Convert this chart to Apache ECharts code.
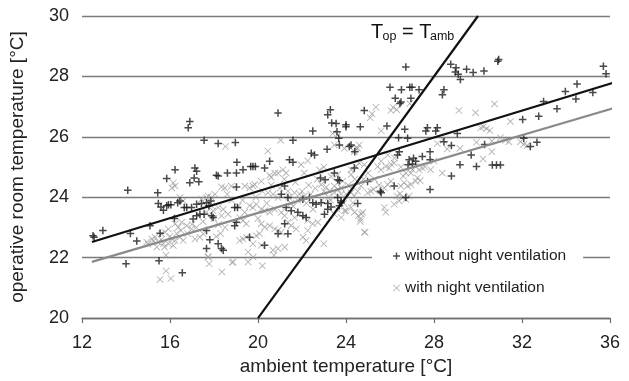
<!DOCTYPE html>
<html><head><meta charset="utf-8">
<script src="https://cdn.jsdelivr.net/npm/echarts@6/dist/echarts.min.js"></script>
<style>html,body{margin:0;padding:0;background:#fff}#c{width:629px;height:381px}</style>
</head><body><div id="c"></div>
<script>
// ambient temperature [°C], operative room temperature [°C]
const withoutNightVent = [
[12.5,22.73],[12.55,22.68],[12.95,22.9],[14.08,24.23],[14.2,22.8],[14.0,21.8],[14.49,22.55],[15.09,23.06],[15.44,24.15],[15.55,22.81],[15.5,21.9],[15.47,23.79],[15.59,23.68],[15.7,23.57],[15.85,23.72],[15.93,23.75],[16.04,23.75],[15.85,24.62],[16.23,24.91],[16.2,23.3],[16.35,23.82],[16.45,23.88],[16.56,21.5],[16.65,23.66],[16.76,23.66],[16.98,23.66],[16.9,26.51],[16.83,26.3],[16.9,24.48],[17.13,24.97],[17.21,24.86],[17.1,24.64],[17.31,24.51],[17.21,23.77],[17.43,23.79],[17.66,23.82],[17.77,23.72],[17.86,23.88],[17.05,23.28],[17.21,23.39],[17.36,23.44],[17.55,23.44],[17.89,23.39],[17.96,23.33],[17.66,22.9],[17.81,22.59],[18.19,22.46],[18.34,22.3],[18.42,22.25],[17.66,22.3],[17.55,25.89],[18.19,25.78],[18.97,25.81],[18.11,24.73],[18.19,24.7],[18.61,24.8],[19.02,24.8],[19.32,24.91],[19.04,25.16],[19.02,24.34],[18.94,23.66],[19.07,23.66],[18.94,23.06],[19.02,23.17],[19.67,25.02],[19.77,25.02],[19.88,25.02],[20.3,24.97],[20.53,25.19],[20.3,22.41],[19.62,22.68],[20.91,26.79],[21.06,24.1],[21.36,23.99],[21.21,24.37],[21.28,23.66],[21.51,23.55],[21.81,23.5],[22.04,23.39],[22.19,23.33],[21.21,23.12],[21.36,22.79],[20.91,22.79],[21.43,25.24],[21.59,25.16],[21.59,25.89],[22.42,25.46],[22.57,25.4],[22.49,26.19],[22.49,23.82],[22.64,23.77],[22.87,23.82],[23.17,23.79],[23.32,23.68],[22.04,23.93],[22.34,23.99],[23.02,23.44],[23.17,23.6],[23.7,23.72],[23.78,23.88],[23.62,23.99],[23.05,24.58],[22.84,24.64],[23.47,24.8],[24.38,24.97],[23.7,24.55],[24.53,23.79],[23.29,26.9],[23.17,26.73],[23.35,26.46],[23.55,26.44],[24.0,26.4],[24.0,26.33],[23.59,26.17],[23.14,25.59],[23.67,25.95],[23.7,25.73],[24.23,25.73],
[24.65,26.33],[24.83,26.87],[23.63,24.58],[24.15,25.68],[24.4,25.51],[23.77,23.82],[24.98,24.52],[25.56,24.2],[25.6,24.15],[26.19,24.37],[26.72,23.99],[25.86,26.36],[26.0,27.64],[26.52,27.56],[26.9,27.64],[27.0,27.64],[27.32,27.56],[26.24,27.28],[26.5,27.15],[26.45,27.1],[26.95,27.28],[26.72,28.31],[28.45,27.56],[28.38,27.39],[28.76,28.4],[29.0,28.29],[28.97,28.15],[29.1,28.07],[29.2,27.9],[29.48,28.24],[29.78,28.13],[30.27,28.18],[30.94,28.56],[30.9,28.5],[35.7,28.34],[35.82,28.09],[26.67,26.25],[27.7,26.3],[27.63,26.19],[28.15,26.3],[28.08,26.19],[29.06,26.11],[30.3,25.75],[32.03,26.57],[32.76,26.68],[32.98,27.17],[33.59,26.93],[33.97,27.5],[34.5,27.75],[34.45,27.25],[35.22,27.47],[32.08,25.95],[32.38,25.68],[32.68,25.82],[29.18,25.08],[29.93,25.02],[30.65,25.07],[30.84,25.07],[31.02,25.07],[29.69,25.4],[28.79,25.71],[28.45,25.84],[27.82,25.51],[28.79,24.7],[27.82,24.26],[26.39,25.97],[26.8,25.95],[26.87,25.24],[27.07,25.29],[27.17,25.19],[27.47,25.35],[26.82,25.08],[27.02,25.1],[27.82,25.24],[26.34,25.4],[26.42,25.51]
];
const withNightVent = [
[21.03,25.89],[18.52,25.68],[20.45,25.53],[23.4,26.11],[24.38,25.51],[24.53,25.62],[24.6,25.73],[22.26,25.21],[21.96,25.08],[21.13,24.91],[20.91,24.8],[20.76,24.8],[21.28,24.8],[23.32,24.69],[23.62,24.75],[23.85,24.53],[24.23,24.75],[20.53,24.73],[20.6,24.66],[20.15,24.53],[19.85,24.42],[16.15,24.48],[16.23,24.37],[16.08,24.31],[18.34,24.34],[18.49,24.31],[18.79,24.37],[19.4,24.37],[19.62,24.31],[19.77,24.37],[18.04,24.1],[17.74,24.04],[17.66,23.99],[17.89,23.99],[17.43,23.93],[16.6,23.88],[16.45,23.99],[20.45,24.15],[20.68,24.1],[20.91,23.99],[21.36,24.2],[21.66,24.15],[21.89,24.1],[22.11,24.04],[22.87,24.42],[23.1,24.34],[23.25,24.2],[23.47,24.15],[23.78,24.31],[24.0,24.1],[24.23,24.15],[24.38,24.04],[24.53,24.2],[24.68,24.37],[19.62,23.72],[19.77,23.66],[19.92,23.77],[20.15,23.6],[20.3,23.55],[20.53,23.5],[20.76,23.6],[21.06,23.5],[21.21,23.39],[21.66,23.33],[21.89,23.44],[17.89,23.72],[18.19,23.66],[18.42,23.6],[17.66,23.5],[17.96,23.55],[18.34,23.39],[18.64,23.44],[19.17,23.33],[19.32,23.23],[19.47,23.12],[16.23,23.12],[16.53,23.17],[16.38,23.01],[16.76,23.06],[16.98,22.95],[15.93,22.95],[15.77,22.84],[15.62,22.79],[15.32,22.68],[15.17,22.62],[14.94,22.52],[16.08,22.62],[16.23,22.57],[16.45,22.68],[16.6,22.57],[15.47,22.52],[15.7,22.46],[15.93,22.46],[17.13,22.62],[17.36,22.68],[17.51,22.79],[19.17,22.57],[19.32,22.62],[19.47,22.68],[19.92,22.73],[20.07,22.79],[20.15,22.41],[19.77,22.46],[19.55,22.19],[20.68,22.25],[20.91,22.3],[21.21,22.35],[22.04,22.68],[22.19,22.57],[22.26,22.9],[22.99,22.46],[20.15,23.12],[20.3,23.01],[20.53,23.06],[20.76,22.95],[20.91,22.9],[21.06,22.84],[21.36,23.17],[21.51,23.06],[21.74,22.95],[22.26,23.23],[22.49,23.12],[22.72,23.17],[23.47,23.44],[23.78,23.33],[24.0,23.55],[24.23,23.66],[24.38,23.5],[24.56,23.39],[17.74,22.03],[18.87,21.86],[19.55,21.86],[15.55,21.28],[15.82,21.56],[16.04,21.31],[15.82,22.08],[17.73,22.02],[17.78,21.8],[18.36,21.53],[18.82,21.84],[19.78,22.02],[20.2,21.73],[20.73,22.08],[24.87,22.84],[24.65,23.2],[24.7,23.45],
[21.5,23.8],[21.8,23.9],[22.0,24.2],[22.3,24.4],[22.6,24.3],[22.5,23.6],[22.9,23.9],[23.2,24.0],[21.2,24.6],[21.7,24.5],[22.8,24.9],[23.0,25.0],[22.1,24.8],[20.2,24.2],[19.9,24.0],[19.3,23.9],[18.8,23.9],[18.6,24.1],
[15.0,22.45],[15.25,22.55],[15.4,22.35],[15.6,22.6],[15.75,22.35],[16.0,22.7],[16.15,22.4],[16.3,22.8],[16.5,22.9],[16.8,22.8],[17.0,23.1],[17.2,23.0],[17.5,23.2],[18.0,23.3],[18.2,23.1],[18.5,23.0],[18.1,22.7],[18.3,22.8],[19.1,23.7],[19.4,23.5],[20.0,23.3],[20.4,23.8],[20.6,24.4],[21.0,24.3],[21.4,24.0],[21.6,23.7],[22.2,23.8],[22.4,24.1],[22.7,24.6],[23.0,24.2],[23.3,23.9],[23.6,23.6],[23.9,23.8],[24.1,24.4],[24.4,24.6],[24.8,24.6],[25.0,24.8],[25.3,24.6],[25.5,24.4],[25.6,25.2],[25.9,25.4],[26.2,25.3],[26.5,25.0],[26.6,24.7],[27.6,25.0],[28.0,25.2],[28.6,25.6],[26.9,27.1],[26.3,26.9],[25.6,26.2],
[25.36,26.98],[26.04,26.87],[26.14,26.98],[25.18,26.76],[25.1,26.63],[29.13,26.87],[29.89,26.8],[30.75,27.09],[31.47,26.51],[30.12,26.3],[30.24,26.33],[30.39,26.27],[30.54,26.21],[28.15,25.78],[28.42,25.89],[29.18,25.62],[29.93,25.82],[30.63,25.86],[30.63,25.51],[30.23,25.27],[31.02,25.97],[31.25,25.89],[31.4,25.84],[31.93,25.84],[32.08,25.75],[32.23,25.71],[28.38,24.8],[27.85,24.91],[27.47,24.97],[27.32,24.91],[27.17,25.02],[27.02,24.91],[26.95,24.8],[26.72,24.8],[27.25,24.64],[27.37,24.55],[27.17,24.53],[26.95,24.42],[26.8,24.37],[26.64,24.48],[26.49,24.37],[26.87,24.04],[26.72,23.93],[26.57,23.99],[26.42,23.88],[26.31,24.04],[26.46,24.12],[26.04,25.1],[25.96,24.97],[26.19,25.13],[25.81,25.02],[25.59,24.91],[25.44,25.02],[24.83,25.08],[24.6,25.13],[24.45,25.02],[24.23,24.91],[26.04,24.53],[25.89,24.42],[25.74,24.31],[25.13,24.2],[24.98,24.15],[25.25,24.26],[25.74,23.66],[25.81,23.5],[26.19,23.77],[24.83,22.84],[24.65,23.28],[24.76,23.5],[23.93,23.55],[24.31,23.82],[23.78,24.1],[23.63,24.26],[23.47,24.37],[23.47,25.73],[23.93,25.62],[24.45,25.62],[23.63,26.06]
];
const fitWithout = [[12.45,22.52],[36.86,27.95]];
const fitWith = [[12.45,21.86],[36.86,27.1]];
const identityLine = [[20,20],[30,30]];
const xTickValues = [12,16,20,24,28,32,36];
const yTickValues = [20,22,24,26,28,30];
const seriesNames = ['without night ventilation','with night ventilation'];

const FONT = 'Liberation Sans, Arial, sans-serif';
const plusPath = 'path://M4,0H6V4H10V6H6V10H4V6H0V4H4Z';
const crossPath = 'path://M0.8,0L5,4.2L9.2,0L10,0.8L5.8,5L10,9.2L9.2,10L5,5.8L0.8,10L0,9.2L4.2,5L0,0.8Z';
const chart = echarts.init(document.getElementById('c'), null, {renderer:'canvas'});
chart.setOption({
  animation:false,
  backgroundColor:'#fff',
  grid:{left:80,right:19,top:16,bottom:59},
  xAxis:{type:'value',min:xTickValues[0],max:xTickValues[xTickValues.length-1],interval:4,
    axisLine:{show:true,lineStyle:{color:'#6e6e6e',width:1.3}},
    axisTick:{show:true,inside:false,length:5,lineStyle:{color:'#6e6e6e',width:1.2}},
    splitLine:{show:false},
    axisLabel:{fontSize:18,color:'#222',fontFamily:FONT,margin:16},
    name:'ambient temperature [°C]',nameLocation:'middle',nameGap:29,
    nameTextStyle:{fontSize:19,color:'#222',fontFamily:FONT}},
  yAxis:{type:'value',min:yTickValues[0],max:yTickValues[yTickValues.length-1],interval:2,
    axisLine:{show:false},axisTick:{show:false},
    splitLine:{show:true,lineStyle:{color:'#7a7a7a',width:1.3}},
    axisLabel:{fontSize:18,color:'#222',fontFamily:FONT,margin:13},
    name:'operative room temperature [°C]',nameLocation:'middle',nameGap:55,
    nameTextStyle:{fontSize:19,color:'#222',fontFamily:FONT}},
  legend:{orient:'vertical',left:372,top:239,padding:[8,17,8,21],backgroundColor:'#fff',
    itemWidth:7,itemHeight:7,itemGap:14,
    textStyle:{fontSize:15.5,color:'#222',fontFamily:FONT,lineHeight:18},
    data:seriesNames},
  series:[
    {type:'scatter',name:seriesNames[1],data:withNightVent,symbol:crossPath,symbolSize:7,
      itemStyle:{color:'#9a9a9a'},z:2},
    {type:'scatter',name:seriesNames[0],data:withoutNightVent,symbol:plusPath,symbolSize:7.5,
      itemStyle:{color:'#1c1c1c'},z:3},
    {type:'line',data:fitWith,showSymbol:false,symbol:'none',clip:false,
      lineStyle:{color:'#8a8a8a',width:2.2},z:4,silent:true},
    {type:'line',data:fitWithout,showSymbol:false,symbol:'none',clip:false,
      lineStyle:{color:'#111',width:2.2},z:4,silent:true},
    {type:'line',data:identityLine,showSymbol:false,symbol:'none',clip:false,
      lineStyle:{color:'#111',width:2.2},z:4,silent:true}
  ],
  graphic:[
    {type:'text',x:371,y:32.5,style:{text:'T',fontSize:20,fontFamily:FONT,fill:'#111',verticalAlign:'middle',align:'left'}},
    {type:'text',x:382.5,y:37,style:{text:'op',fontSize:12.5,fontFamily:FONT,fill:'#111',verticalAlign:'middle',align:'left'}},
    {type:'text',x:396.5,y:32.5,style:{text:' = T',fontSize:20,fontFamily:FONT,fill:'#111',verticalAlign:'middle',align:'left'}},
    {type:'text',x:430,y:37,style:{text:'amb',fontSize:12.5,fontFamily:FONT,fill:'#111',verticalAlign:'middle',align:'left'}}
  ]
});
</script></body></html>
